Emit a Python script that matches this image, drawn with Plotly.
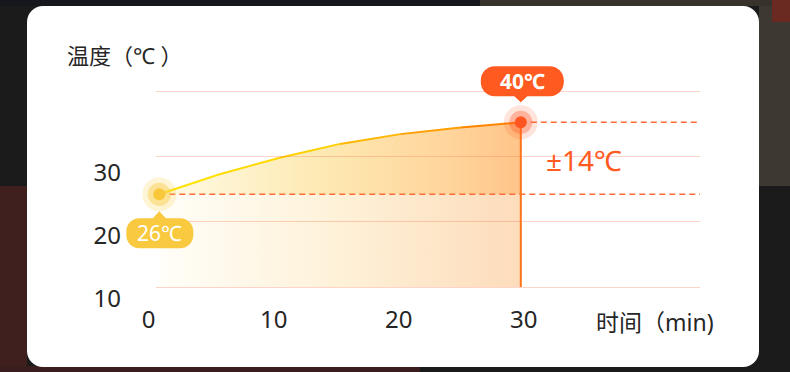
import plotly.graph_objects as go

W, H = 790, 372

# ---------------- data ----------------
time_min = [0, 5, 10, 15, 20, 25, 30]
temp_c = [26, 29.9, 33.1, 35.8, 37.7, 39.0, 40]
x_ticks = [0, 10, 20, 30]
y_ticks = [10, 20, 30]
grid_vals = [10, 20, 30, 40]
y_title = "温度（℃ ）"
x_title = "时间（min)"

start_t, end_t = time_min[0], time_min[-1]
start_T, end_T = temp_c[0], temp_c[-1]
delta = end_T - start_T

FONT = "Noto Sans, Noto Sans CJK SC, sans-serif"
TXT = "#262626"
ORANGE = "#ff5a1f"


def fx(px):
    return px / W


def fy(py):
    return 1 - py / H


# ---------- axis calibrations (pixel layout) ----------
D_X0, D_XS = 159.3, 12.05
D_Y0, D_YS = 194.3, 5.143
D_LEFT, D_RIGHT, D_TOP, D_BOT = 100, 700, 60, 287
X1_RANGE = [start_t + (D_LEFT - D_X0) / D_XS, start_t + (D_RIGHT - D_X0) / D_XS]
Y1_RANGE = [start_T - (D_BOT - D_Y0) / D_YS, start_T + (D_Y0 - D_TOP) / D_YS]

G_LEFT = 156
G_PX10, G_S = 287.0, 6.533
G_TOP, G_BOT = 85, 292
Y2_RANGE = [10 - (G_BOT - G_PX10) / G_S, 10 + (G_PX10 - G_TOP) / G_S]

L_X0, L_XS = 148.7, 12.5
L_LEFT = 122
L_PX10, L_YS = 298.4, 6.275
L_TOP, L_BOT = 60, 303
X3_RANGE = [(L_LEFT - L_X0) / L_XS, (D_RIGHT - L_X0) / L_XS]
Y3_RANGE = [10 - (L_BOT - L_PX10) / L_YS, 10 + (L_PX10 - L_TOP) / L_YS]


def hex2rgb(c):
    return [int(c[i:i + 2], 16) for i in (1, 3, 5)]


def multi_grad(stops, f):
    for (f0, c0), (f1, c1) in zip(stops[:-1], stops[1:]):
        if f <= f1:
            u = (f - f0) / (f1 - f0)
            a, b = hex2rgb(c0), hex2rgb(c1)
            return "rgb(%d,%d,%d)" % tuple(round(a[k] + (b[k] - a[k]) * u) for k in range(3))
    return stops[-1][1]


LINE_STOPS = [(0, "#ffe600"), (0.4, "#ffd200"), (0.7, "#ffa600"), (1, "#ff7800")]

fig = go.Figure()

# lower (light) area fill: whole area under curve
fig.add_trace(go.Scatter(
    x=time_min, y=temp_c, mode="lines", line=dict(width=0),
    fill="tozeroy",
    fillgradient=dict(type="horizontal", colorscale=[
        [0, "#fffef8"], [0.5, "#fef1d8"], [1, "#fddcbb"]]),
    hoverinfo="skip", showlegend=False, xaxis="x", yaxis="y"))
# baseline at start temperature (invisible) + stronger fill between it and the curve
fig.add_trace(go.Scatter(
    x=[start_t, end_t], y=[start_T, start_T], mode="lines", line=dict(width=0),
    hoverinfo="skip", showlegend=False, xaxis="x", yaxis="y"))
fig.add_trace(go.Scatter(
    x=time_min, y=temp_c, mode="lines", line=dict(width=0),
    fill="tonexty",
    fillgradient=dict(type="horizontal", colorscale=[
        [0, "#fffbe6"], [0.45, "#fde9b2"], [0.8, "#ffd59c"], [1, "#ffc489"]]),
    hoverinfo="skip", showlegend=False, xaxis="x", yaxis="y"))

# curve segments with colour gradient
n = len(time_min)
for i in range(n - 1):
    fig.add_trace(go.Scatter(
        x=time_min[i:i + 2], y=temp_c[i:i + 2], mode="lines",
        line=dict(color=multi_grad(LINE_STOPS, (i + 0.5) / (n - 1)), width=2),
        hoverinfo="skip", showlegend=False, xaxis="x", yaxis="y"))

# dashed reference lines
for t, T in ((start_t, start_T), (end_t, end_T)):
    fig.add_trace(go.Scatter(
        x=[t, X1_RANGE[1]], y=[T, T], mode="lines",
        line=dict(color="#ff6b3b", width=1.5, dash="6px,4px"),
        hoverinfo="skip", showlegend=False, xaxis="x", yaxis="y"))

# vertical line at the end
fig.add_trace(go.Scatter(
    x=[end_t, end_t], y=[Y1_RANGE[0], end_T], mode="lines",
    line=dict(color="#ff7416", width=2),
    hoverinfo="skip", showlegend=False, xaxis="x", yaxis="y"))

# markers with halos
for (t, T, cols) in [
    (start_t, start_T, ("rgba(249,203,69,0.22)", "rgba(249,203,69,0.45)", "#f9c73a")),
    (end_t, end_T, ("rgba(255,90,40,0.16)", "rgba(255,90,40,0.35)", "#ff5520")),
]:
    for size, col in zip((34, 23, 12), cols):
        fig.add_trace(go.Scatter(
            x=[t], y=[T], mode="markers",
            marker=dict(size=size, color=col, line=dict(width=0)),
            cliponaxis=False, hoverinfo="skip", showlegend=False,
            xaxis="x", yaxis="y"))

fig.add_trace(go.Scatter(x=[], y=[], xaxis="x2", yaxis="y2", showlegend=False, hoverinfo="skip"))
fig.add_trace(go.Scatter(x=[], y=[], xaxis="x3", yaxis="y3", showlegend=False, hoverinfo="skip"))


def pill_path(x0, x1, yb, yt, r, ptr_tip, ptr_half, ptr_side):
    k = 0.5523 * r
    p = [f"M {x0 + r},{yb}"]
    if ptr_side == "bottom":
        p.append(f"L {-ptr_half},{yb} L 0,{ptr_tip} L {ptr_half},{yb}")
    p.append(f"L {x1 - r},{yb}")
    p.append(f"C {x1 - r + k},{yb} {x1},{yb + r - k} {x1},{yb + r}")
    p.append(f"L {x1},{yt - r}")
    p.append(f"C {x1},{yt - r + k} {x1 - r + k},{yt} {x1 - r},{yt}")
    if ptr_side == "top":
        p.append(f"L {ptr_half},{yt} L 0,{ptr_tip} L {-ptr_half},{yt}")
    p.append(f"L {x0 + r},{yt}")
    p.append(f"C {x0 + r - k},{yt} {x0},{yt - r + k} {x0},{yt - r}")
    p.append(f"L {x0},{yb + r}")
    p.append(f"C {x0},{yb + r - k} {x0 + r - k},{yb} {x0 + r},{yb} Z")
    return " ".join(p)


def rrect_paper(x0, y0, x1, y1, r):
    k = 0.5523 * r
    P = lambda x, y: f"{fx(x):.5f},{fy(y):.5f}"
    return (f"M {P(x0 + r, y0)} L {P(x1 - r, y0)} C {P(x1 - r + k, y0)} {P(x1, y0 + r - k)} {P(x1, y0 + r)} "
            f"L {P(x1, y1 - r)} C {P(x1, y1 - r + k)} {P(x1 - r + k, y1)} {P(x1 - r, y1)} "
            f"L {P(x0 + r, y1)} C {P(x0 + r - k, y1)} {P(x0, y1 - r + k)} {P(x0, y1 - r)} "
            f"L {P(x0, y0 + r)} C {P(x0, y0 + r - k)} {P(x0 + r - k, y0)} {P(x0 + r, y0)} Z")


shapes = []
for (x0, y0, x1, y1, c) in [
    (0, 186, 27, 372, "#40201f"),
    (0, 366, 420, 372, "#3a1d1d"),
    (759, 0, 790, 186, "#3d3831"),
    (480, 0, 790, 6, "#37322b"),
    (772, 0, 790, 22, "#6a2a22"),
    (0, 0, 480, 6, "#15171c"),
]:
    shapes.append(dict(type="rect", xref="paper", yref="paper", x0=fx(x0), x1=fx(x1),
                       y0=fy(y1), y1=fy(y0), fillcolor=c, line=dict(width=0), layer="below"))
shapes.append(dict(type="path", xref="paper", yref="paper", path=rrect_paper(27, 6, 759, 367, 16),
                   fillcolor="#ffffff", line=dict(width=0), layer="below"))
shapes.append(dict(type="path", xref="x", yref="y", xsizemode="pixel", ysizemode="pixel",
                   xanchor=end_t, yanchor=end_T,
                   path=pill_path(-40, 43, 26, 56, 14, 20, 6.5, "bottom"),
                   fillcolor=ORANGE, line=dict(width=0), layer="above"))
shapes.append(dict(type="path", xref="x", yref="y", xsizemode="pixel", ysizemode="pixel",
                   xanchor=start_t, yanchor=start_T,
                   path=pill_path(-33, 34, -54, -24, 13, -17, 6.5, "top"),
                   fillcolor="#f9c940", line=dict(width=0), layer="above"))

annotations = [
    dict(text=f"{end_T:g}℃", x=end_t, y=end_T, xref="x", yref="y", showarrow=False,
         xshift=1.5, yshift=41, font=dict(family=FONT, size=21, color="white", weight="bold")),
    dict(text=f"{start_T:g}℃", x=start_t, y=start_T, xref="x", yref="y", showarrow=False,
         xshift=0.5, yshift=-39, font=dict(family=FONT, size=21, color="white")),
    dict(text=f"±{delta:g}℃", x=end_t, y=(start_T + end_T) / 2, xref="x", yref="y",
         showarrow=False, xanchor="left", xshift=23, yshift=-1.5,
         font=dict(family=FONT, size=28, color=ORANGE)),
    dict(text=y_title, x=fx(65), y=fy(55), xref="paper", yref="paper", showarrow=False,
         xanchor="left", yanchor="middle", font=dict(family=FONT, size=22, color=TXT)),
    dict(text=x_title, x=fx(594), y=fy(322), xref="paper", yref="paper", showarrow=False,
         xanchor="left", yanchor="middle", font=dict(family=FONT, size=23, color=TXT)),
]

hidden = dict(showgrid=False, zeroline=False, showline=False, showticklabels=False, ticks="",
              automargin=False)

fig.update_layout(
    width=W, height=H, autosize=False,
    margin=dict(l=0, r=0, t=0, b=0, pad=0),
    paper_bgcolor="#1c1b1b", plot_bgcolor="rgba(0,0,0,0)",
    showlegend=False,
    shapes=shapes, annotations=annotations,
    xaxis=dict(domain=[fx(D_LEFT), fx(D_RIGHT)], range=X1_RANGE, anchor="y", **hidden),
    yaxis=dict(domain=[fy(D_BOT), fy(D_TOP)], range=Y1_RANGE, anchor="x", **hidden),
    xaxis2=dict(domain=[fx(G_LEFT), fx(D_RIGHT)], range=[0, 1], anchor="y2", **hidden),
    yaxis2=dict(domain=[fy(G_BOT), fy(G_TOP)], range=Y2_RANGE, anchor="x2",
                showgrid=True, gridcolor="rgba(248,120,80,0.32)", gridwidth=1,
                tickmode="array", tickvals=grid_vals, zeroline=False, showline=False,
                showticklabels=False, ticks="", automargin=False),
    xaxis3=dict(domain=[fx(L_LEFT), fx(D_RIGHT)], range=X3_RANGE, anchor="y3",
                tickmode="array", tickvals=x_ticks, showgrid=False, zeroline=False,
                showline=False, ticks="", automargin=False,
                tickfont=dict(family=FONT, size=24, color=TXT)),
    yaxis3=dict(domain=[fy(L_BOT), fy(L_TOP)], range=Y3_RANGE, anchor="x3",
                tickmode="array", tickvals=y_ticks, showgrid=False, zeroline=False,
                showline=False, ticks="", automargin=False,
                tickfont=dict(family=FONT, size=24, color=TXT)),
)

fig.write_html("out.html")
